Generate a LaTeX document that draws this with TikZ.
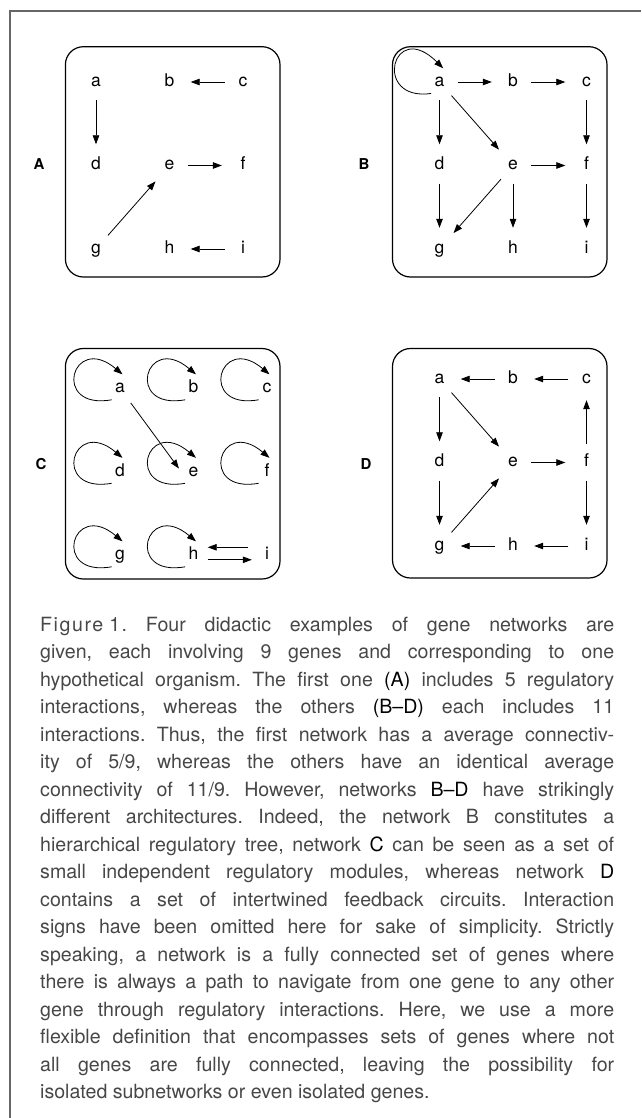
\documentclass[tikz,border=0pt]{standalone}
\usepackage{fontspec}
\setmainfont{TeX Gyre Heros}
\newfontfamily\figtag[LetterSpace=8]{TeX Gyre Heros}
\usetikzlibrary{arrows.meta, positioning}
\tikzstyle{genenet}=[x=1pt, y=1pt, on grid, node distance=83.5pt and 73.5pt, >={Triangle[length=9pt,width=6.5pt]}]
\tikzstyle{gene}=[circle, minimum size=28pt, inner sep=0pt, text height=8.8pt, text depth=0pt, font=\fontsize{17.5}{18}\selectfont]
\tikzstyle{panel}=[draw, line width=1.2pt, rounded corners=18pt]
\tikzstyle{tag}=[font=\fontsize{15}{16}\selectfont\bfseries]
\tikzstyle{reg}=[->, line width=0.8pt, shorten <=4pt, shorten >=7pt]
\tikzstyle{selfreg}=[->, line width=0.8pt]
\tikzstyle{legend}=[anchor=base west, inner sep=0pt, text width=574pt, align=justify, text=black!72, font=\fontsize{19.6}{27.5}\selectfont]
\newcommand{\capem}[1]{\textcolor{black}{#1}}

\begin{document}
\begin{tikzpicture}[genenet]
  \useasboundingbox (0,0) rectangle (641,-1118);
  % page frame
  \draw[black!60, line width=1.2pt] (641,-11) -- (10,-11) -- (10,-1118);

  % the four boxes
  \draw[panel] (65.4,-46.7) rectangle (280,-277);
  \draw[panel] (392.5,-46.7) rectangle (607,-277);
  \draw[panel] (65.4,-348.5) rectangle (280,-579);
  \draw[panel] (392.5,-348.5) rectangle (607,-578);
  \node[tag] (tagA) at (39,-164) {A};
  \node[tag] (tagB) at (364,-164) {B};
  \node[tag] (tagC) at (41,-464.3) {C};
  \node[tag] (tagD) at (366,-464.3) {D};

  % network A
  \node[gene] (Aa) at (96,-82) {a};
  \node[gene] (Ab) [right=of Aa] {b};
  \node[gene] (Ac) [right=of Ab] {c};
  \node[gene] (Ad) [below=of Aa] {d};
  \node[gene] (Ae) [right=of Ad] {e};
  \node[gene] (Af) [right=of Ae] {f};
  \node[gene] (Ag) [below=of Ad] {g};
  \node[gene] (Ah) [right=of Ag] {h};
  \node[gene] (Ai) [right=of Ah] {i};
  \path[reg] (Ac) edge (Ab);
  \path[reg] (Aa) edge (Ad);
  \path[reg] (Ae) edge (Af);
  \path[reg] (Ag) edge (Ae);
  \path[reg] (Ai) edge (Ah);

  % network B
  \node[gene] (Ba) at (439.5,-82) {a};
  \node[gene] (Bb) [right=of Ba] {b};
  \node[gene] (Bc) [right=of Bb] {c};
  \node[gene] (Bd) [below=of Ba] {d};
  \node[gene] (Be) [right=of Bd] {e};
  \node[gene] (Bf) [right=of Be] {f};
  \node[gene] (Bg) [below=of Bd] {g};
  \node[gene] (Bh) [right=of Bg] {h};
  \node[gene] (Bi) [right=of Bh] {i};
  \draw[selfreg] (Ba.234) .. controls +(188:60) and +(135:72) .. (Ba.75);
  \path[reg] (Ba) edge (Bb);
  \path[reg] (Bb) edge (Bc);
  \path[reg] (Bc) edge (Bf);
  \path[reg] (Ba) edge (Bd);
  \path[reg] (Ba) edge (Be);
  \path[reg] (Be) edge (Bf);
  \path[reg] (Bd) edge (Bg);
  \path[reg] (Be) edge (Bg);
  \path[reg] (Be) edge (Bh);
  \path[reg] (Bf) edge (Bi);

  % network C
  \node[gene] (Ca) at (120,-388.3) {a};
  \node[gene] (Cb) [right=of Ca] {b};
  \node[gene] (Cc) [right=of Cb] {c};
  \node[gene] (Cd) [below=of Ca] {d};
  \node[gene] (Ce) [right=of Cd] {e};
  \node[gene] (Cf) [right=of Ce] {f};
  \node[gene] (Cg) [below=of Cd] {g};
  \node[gene] (Ch) [right=of Cg] {h};
  \node[gene] (Ci) [right=of Ch] {i};
  \draw[selfreg] (Ca.234) .. controls +(190:62) and +(140:66) .. (Ca.80);
  \draw[selfreg] (Cb.234) .. controls +(190:62) and +(140:66) .. (Cb.80);
  \draw[selfreg] (Cc.234) .. controls +(190:62) and +(140:66) .. (Cc.80);
  \draw[selfreg] (Cd.234) .. controls +(190:62) and +(140:66) .. (Cd.80);
  \draw[selfreg] (Ce.234) .. controls +(190:62) and +(140:66) .. (Ce.80);
  \draw[selfreg] (Cf.234) .. controls +(190:62) and +(140:66) .. (Cf.80);
  \draw[selfreg] (Cg.234) .. controls +(190:62) and +(140:66) .. (Cg.80);
  \draw[selfreg] (Ch.234) .. controls +(190:62) and +(140:66) .. (Ch.80);
  \path[reg] (Ca) edge[shorten >=1pt] (Ce.170);
  \path[reg] ([yshift=8pt]Ci.west) edge[shorten <=5pt, shorten >=0pt] ([yshift=8pt]Ch.east);
  \path[reg] ([yshift=-4.5pt]Ch.east) edge[shorten <=0pt, shorten >=1pt] ([yshift=-4.5pt]Ci.west);

  % network D
  \node[gene] (Da) at (439.5,-379) {a};
  \node[gene] (Db) [right=of Da] {b};
  \node[gene] (Dc) [right=of Db] {c};
  \node[gene] (Dd) [below=of Da] {d};
  \node[gene] (De) [right=of Dd] {e};
  \node[gene] (Df) [right=of De] {f};
  \node[gene] (Dg) [below=of Dd] {g};
  \node[gene] (Dh) [right=of Dg] {h};
  \node[gene] (Di) [right=of Dh] {i};
  \path[reg] (Db) edge (Da);
  \path[reg] (Dc) edge (Db);
  \path[reg] (Da) edge (Dd);
  \path[reg] (Da) edge (De);
  \path[reg] (De) edge (Df);
  \path[reg] (Df) edge (Dc);
  \path[reg] (Df) edge (Di);
  \path[reg] (Dd) edge (Dg);
  \path[reg] (Dg) edge (De);
  \path[reg] (Dh) edge (Dg);
  \path[reg] (Di) edge (Dh);

  % caption
  \node[legend] (legend) at (40,-631) {\frenchspacing\tolerance=9999\hbadness=10000
    {\figtag Figure\hspace{0.3em}1.} Four didactic examples of gene networks are\linebreak
    given, each involving 9 genes and corresponding to one\linebreak
    hypothetical organism. The first one \capem{(A)} includes 5 regulatory\linebreak
    interactions, whereas the others \capem{(B--D)} each includes 11\linebreak
    interactions. Thus, the first network has a average connectiv-\linebreak
    ity of 5/9, whereas the others have an identical average\linebreak
    connectivity of 11/9. However, networks \capem{B--D} have strikingly\linebreak
    different architectures. Indeed, the network B constitutes a\linebreak
    hierarchical regulatory tree, network \capem{C} can be seen as a set of\linebreak
    small independent regulatory modules, whereas network \capem{D}\linebreak
    contains a set of intertwined feedback circuits. Interaction\linebreak
    signs have been omitted here for sake of simplicity. Strictly\linebreak
    speaking, a network is a fully connected set of genes where\linebreak
    there is always a path to navigate from one gene to any other\linebreak
    gene through regulatory interactions. Here, we use a more\linebreak
    flexible definition that encompasses sets of genes where not\linebreak
    all genes are fully connected, leaving the possibility for\linebreak
    isolated subnetworks or even isolated genes.};
\end{tikzpicture}
\end{document}
